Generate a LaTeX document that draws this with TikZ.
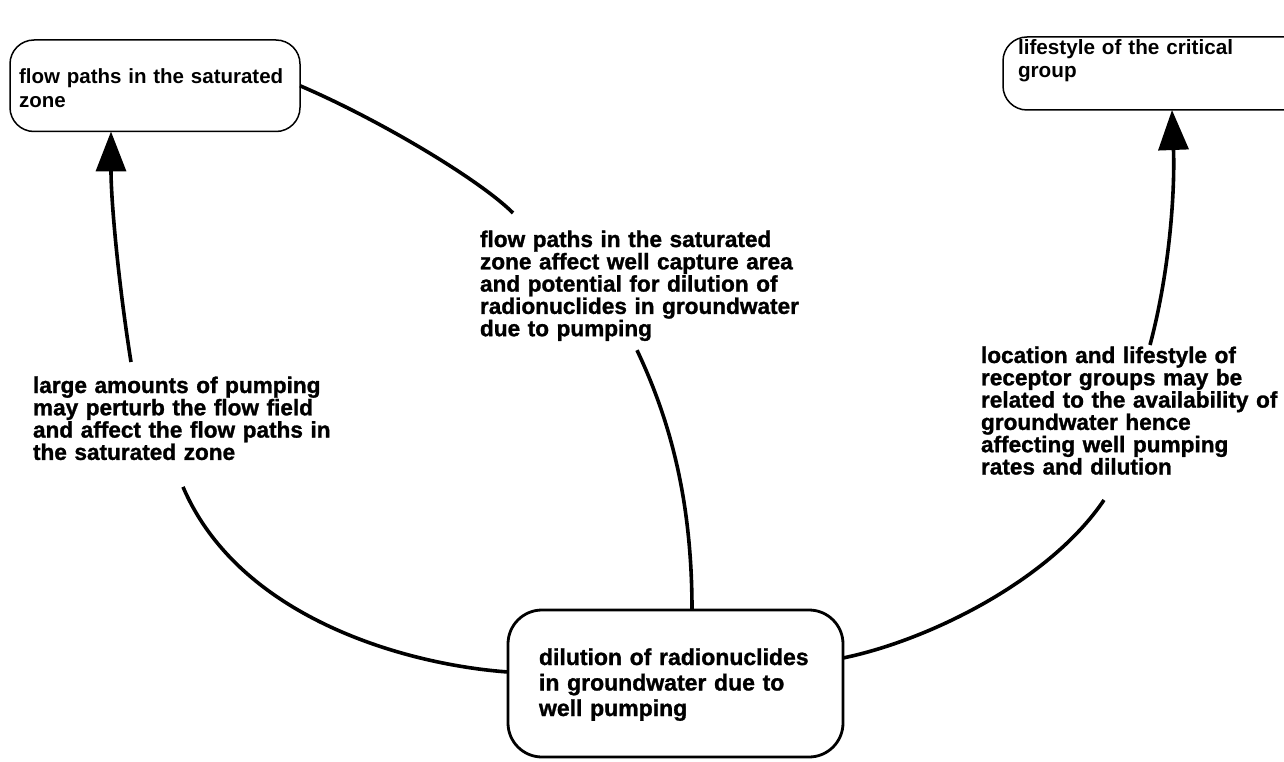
\documentclass[tikz,border=0pt]{standalone}
\usepackage{fontspec}
\setmainfont{Liberation Sans}
\newfontfamily\heavy{Liberation Sans}[BoldFeatures={FakeBold=1.2}]
\hyphenpenalty=10000
\exhyphenpenalty=10000
\usetikzlibrary{arrows.meta}
\begin{document}
\begin{tikzpicture}[x=1pt,y=-1pt,
  box/.style={draw, outer sep=0pt, inner ysep=0pt, anchor=north west, align=left},
  topbox/.style={box, line width=1.5pt, rounded corners=24pt},
  mainbox/.style={box, line width=2.8pt, rounded corners=34pt, inner xsep=31pt,
    text width=273pt, font=\fontsize{23}{25.5}\selectfont\heavy\bfseries},
  note/.style={inner sep=0pt, outer sep=0pt, anchor=north west, align=left,
    text width=#1, font=\fontsize{22.6}{22.3}\selectfont\heavy\bfseries},
  link/.style={line width=3.6pt},
  lead/.style={link, -{Triangle[length=40pt,width=30pt]}}
]
\useasboundingbox (0,0) rectangle (1284,762);

% boxes
\node[topbox, inner xsep=9pt, text width=272pt, font=\fontsize{20.5}{23.5}\selectfont\bfseries]
  (fp) at (10,40) {\rule{0pt}{44pt}flow paths in the saturated\\zone\rule[-24pt]{0pt}{24pt}};
\node[topbox, inner xsep=15pt, text width=277pt, font=\fontsize{20.7}{23}\selectfont\bfseries]
  (ls) at (1003,37) {\rule{0pt}{18pt}lifestyle of the critical\\group\rule[-32pt]{0pt}{32pt}};
\node[mainbox] (dil) at (508,610)
  {\rule{0pt}{55pt}dilution of radionuclides\\in groundwater due to\\well pumping\rule[-41pt]{0pt}{41pt}};

% labels on the links
\node[note=320pt] (nFlow) at (480,227)
  {\rule{0pt}{20pt}flow paths in the saturated\\zone affect well capture area\\and potential for dilution of\\radionuclides in groundwater\\due to pumping\rule[-8pt]{0pt}{8pt}};
\node[note=300pt] (nPump) at (33,373)
  {\rule{0pt}{20pt}large amounts of pumping\\may perturb the flow field\\and affect the flow paths in\\the saturated zone\rule[-8pt]{0pt}{8pt}};
\node[note=300pt] (nLoc) at (981,343)
  {\rule{0pt}{20pt}location and lifestyle of\\receptor groups may be\\related to the availability of\\groundwater hence\\affecting well pumping\\rates and dilution\rule[-8pt]{0pt}{8pt}};

% links
\draw[link] ([yshift=11.5pt]dil.west) .. controls (410,665) and (240,620) .. ([xshift=150pt,yshift=-19pt]nPump.south west);
\draw[lead] ([xshift=98pt,yshift=11pt]nPump.north west) .. controls (118,280) and (111,200) .. ([xshift=-44pt]fp.south);

\draw[link] ([xshift=16.5pt]dil.north) .. controls (692,500) and (670,420) .. ([xshift=-3pt,yshift=-6pt]nFlow.south);
\draw[link] ([xshift=33pt,yshift=14pt]nFlow.north west) .. controls (480,180) and (380,120) .. (fp.east);

\draw[link] ([yshift=25.5pt]dil.east) .. controls (930,640) and (1050,580) .. ([xshift=123pt,yshift=-17.5pt]nLoc.south west);
\draw[lead] ([xshift=169pt,yshift=-2pt]nLoc.north west) .. controls (1170,270) and (1175,190) .. ([xshift=15.5pt]ls.south);
\end{tikzpicture}
\end{document}
